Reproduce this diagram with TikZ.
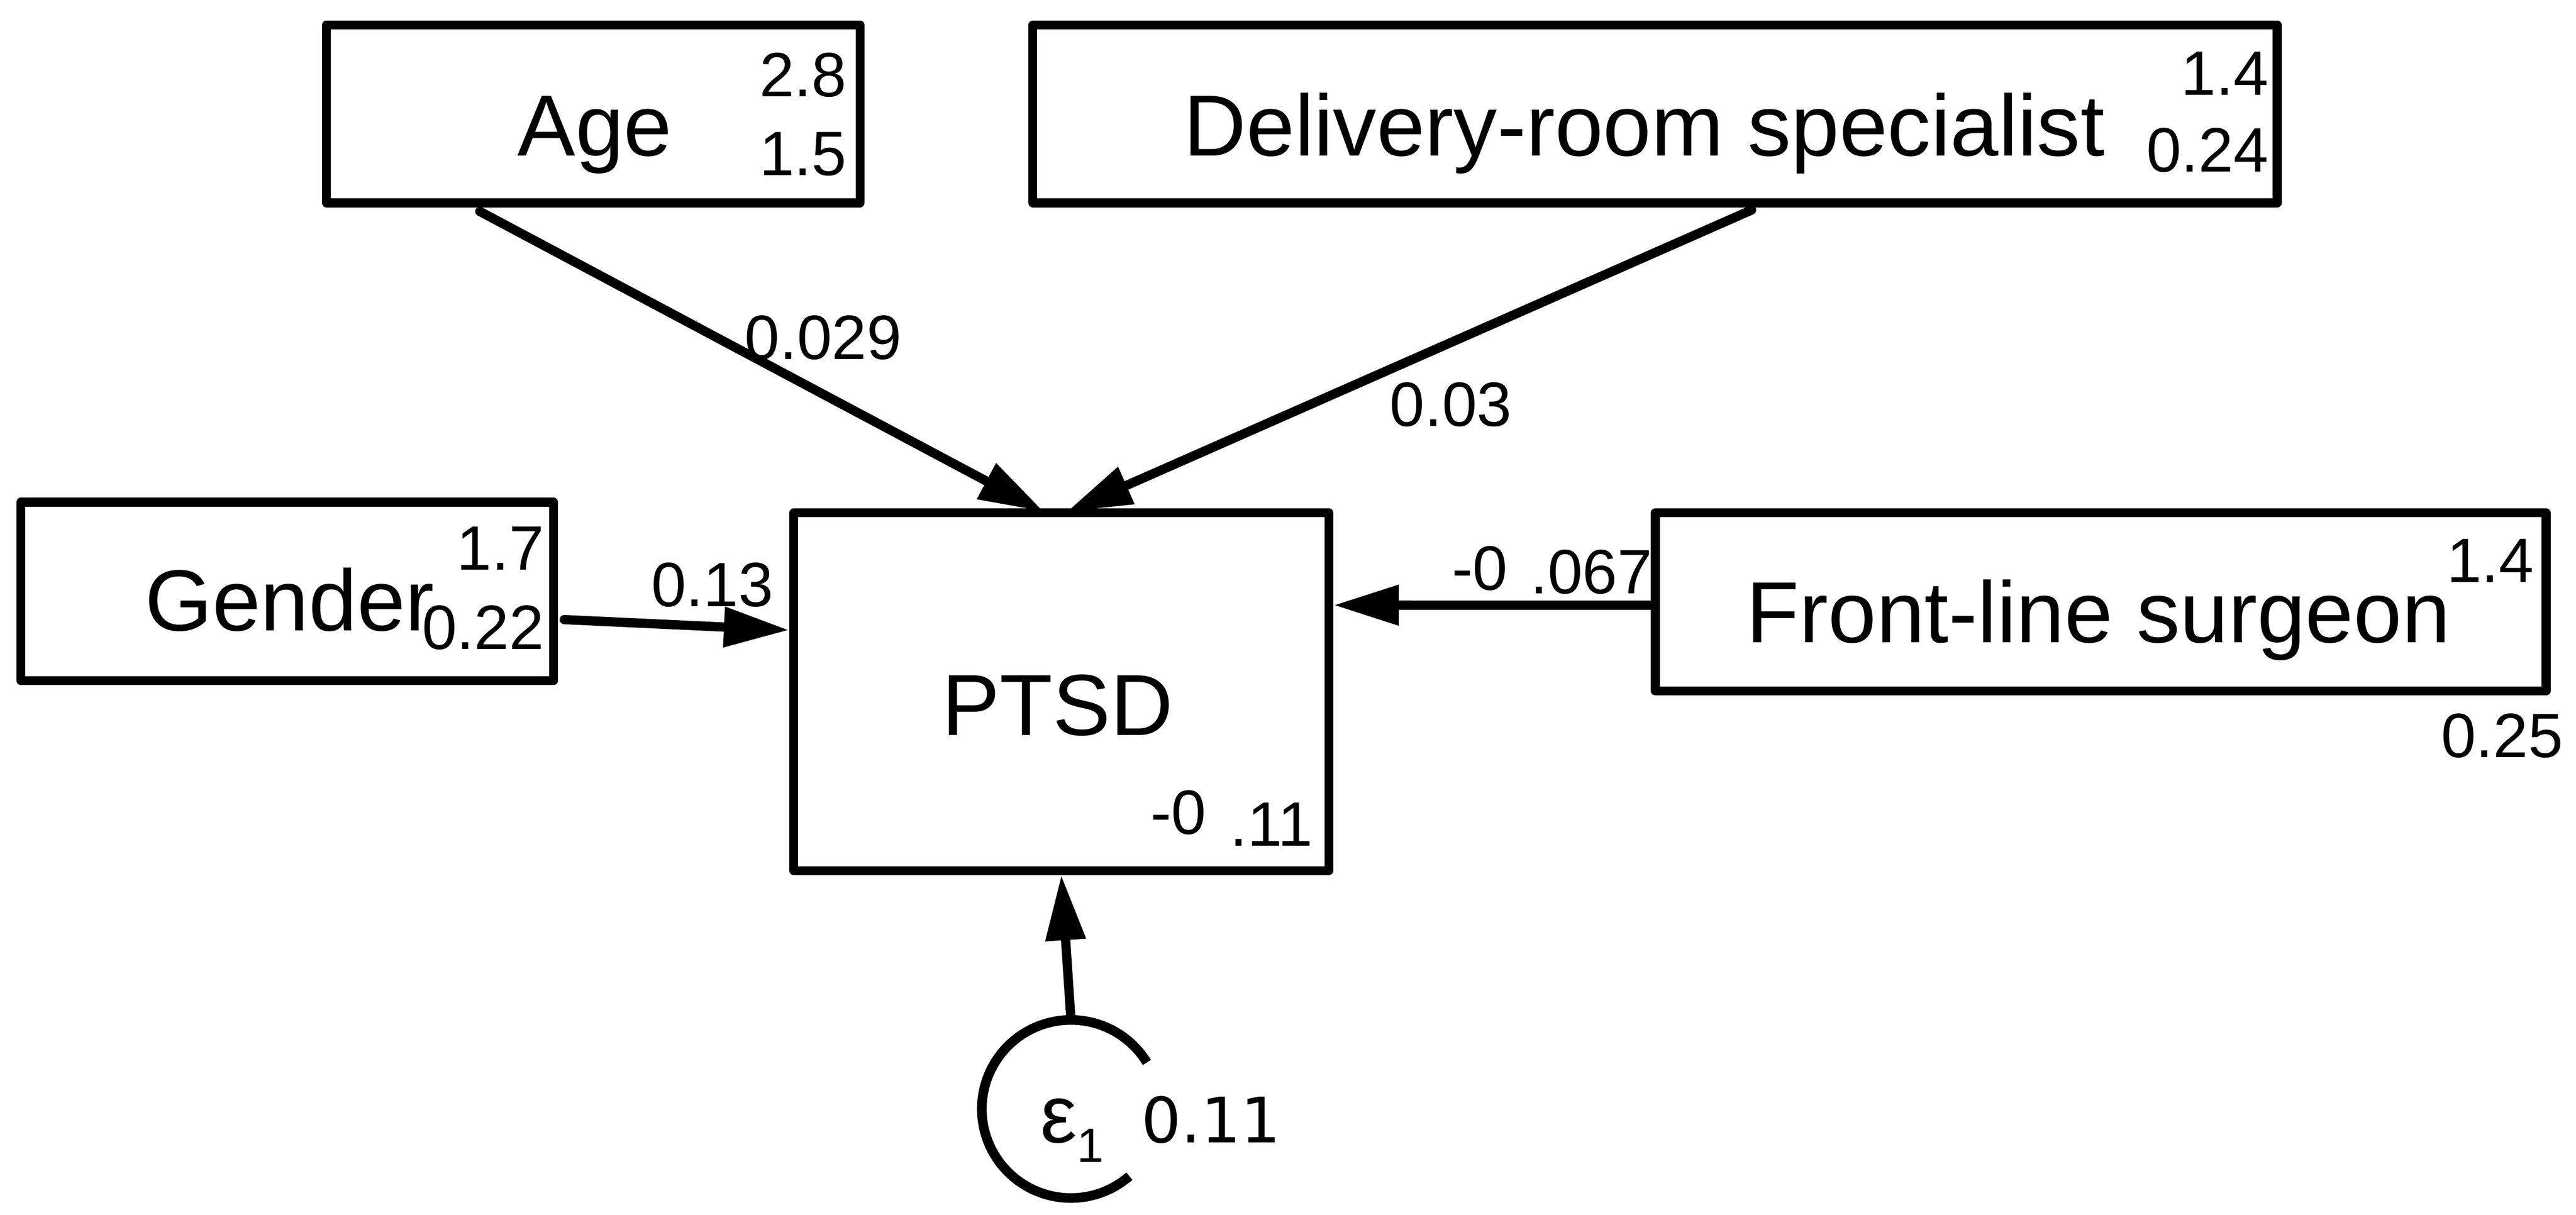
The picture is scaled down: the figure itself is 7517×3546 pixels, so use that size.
\documentclass[tikz,border=0pt]{standalone}
\usepackage{fontspec}
\setmainfont{Liberation Sans}
\newfontfamily\dvsans{DejaVu Sans}
\usetikzlibrary{arrows.meta,calc}
\begin{document}
\begin{tikzpicture}[x=0.01cm,y=-0.01cm,
  box/.style={draw, line width=0.26cm, line join=round, inner sep=0pt, rectangle},
  lbl/.style={font=\fontsize{72}{86}\selectfont, inner sep=0pt, anchor=base west},
  num/.style={font=\fontsize{52}{62}\selectfont, inner sep=0pt, anchor=base east},
  conn/.style={line width=0.27cm, line cap=round, -{Triangle[length=1.9cm,width=1.12cm]}},
  curve/.style={line width=0.28cm}]
\fill[white] (0,0) rectangle (7517,3546);
\useasboundingbox (0,0) rectangle (7517,3546);

% boxes
\node[box, minimum width=15.56cm, minimum height=5.19cm] (Age) at (1731,332.5) {};
\node[box, minimum width=36.29cm, minimum height=5.19cm] (Del) at (4829.5,332.5) {};
\node[box, minimum width=15.54cm, minimum height=5.21cm] (Gen) at (838,1726.5) {};
\node[box, minimum width=15.62cm, minimum height=10.44cm] (PTSD) at (3097,2019) {};
\node[box, minimum width=25.98cm, minimum height=5.20cm] (Front) at (6130,1757) {};

% box labels
\node[lbl] (tAge) at (1510,455) {Age};
\node[num] (age1) at (2471,282) {2.8};
\node[num] (age2) at (2471,512) {1.5};
\node[lbl] (tDel) at (3454,455) {Delivery-room specialist};
\node[num] (del1) at (6620,278) {1.4};
\node[num] (del2) at (6620,502) {0.24};
\node[lbl] (tGen) at (422,1841) {Gender};
\node[num] (gen1) at (1588,1663) {1.7};
\node[num] (gen2) at (1588,1895) {0.22};
\node[lbl] (tPTSD) at (2748,2146) {PTSD};
\node[num] (pt1) at (3521,2435) {-0};
\node[num] (pt2) at (3831,2470) {.11};
\node[lbl] (tFront) at (5095,1875) {Front-line surgeon};
\node[num] (fr1) at (7395,1700) {1.4};
\node[num] (fr2) at (7480,2210) {0.25};

% path labels
\node[num, anchor=base west] (pAge) at (2173,1048) {0.029};
\node[num, anchor=base west] (pDel) at (4055,1244) {0.03};
\node[num, anchor=base west] (pGen) at (1900,1770) {0.13};
\node[num] (pFr1) at (4400,1722) {-0};
\node[num] (pFr2) at (4822,1733) {.067};

% error term
\node[circle, minimum size=5.2cm, inner sep=0pt] (eps) at (3125,3237) {};
\draw[curve] plot[domain=31.5:311, samples=90] ({3125+260*cos(\x)},{3237-260*sin(\x)});
\node[font=\fontsize{68}{74}\selectfont, inner sep=0pt, anchor=base west] (epsl) at (3036,3335) {ε};
\node[font=\fontsize{40}{46}\selectfont, inner sep=0pt, anchor=base west] (epss) at (3142,3392) {1};
\node[font=\dvsans\fontsize{52}{62}\selectfont, inner sep=0pt, anchor=base west] (epsv) at (3330,3335) {0.11};

% connectors
\draw[conn] ($(Age.south west)!0.291!(Age.south east)+(0,12)$) -- ($(PTSD.north west)!0.468!(PTSD.north east)+(0,10)$);
\draw[conn] ($(Del.south west)!0.577!(Del.south east)+(0,8)$) -- ($(PTSD.north west)!0.51!(PTSD.north east)+(0,10)$);
\draw[conn] ($(Gen.north east)!0.65!(Gen.south east)+(18,0)$) -- ($(PTSD.north west)!0.332!(PTSD.south west)$);
\draw[conn] ($(Front.north west)!0.518!(Front.south west)$) -- ($(PTSD.north east)!0.264!(PTSD.south east)$);
\draw[conn] (eps.north) -- (PTSD.south);
\end{tikzpicture}
\end{document}
